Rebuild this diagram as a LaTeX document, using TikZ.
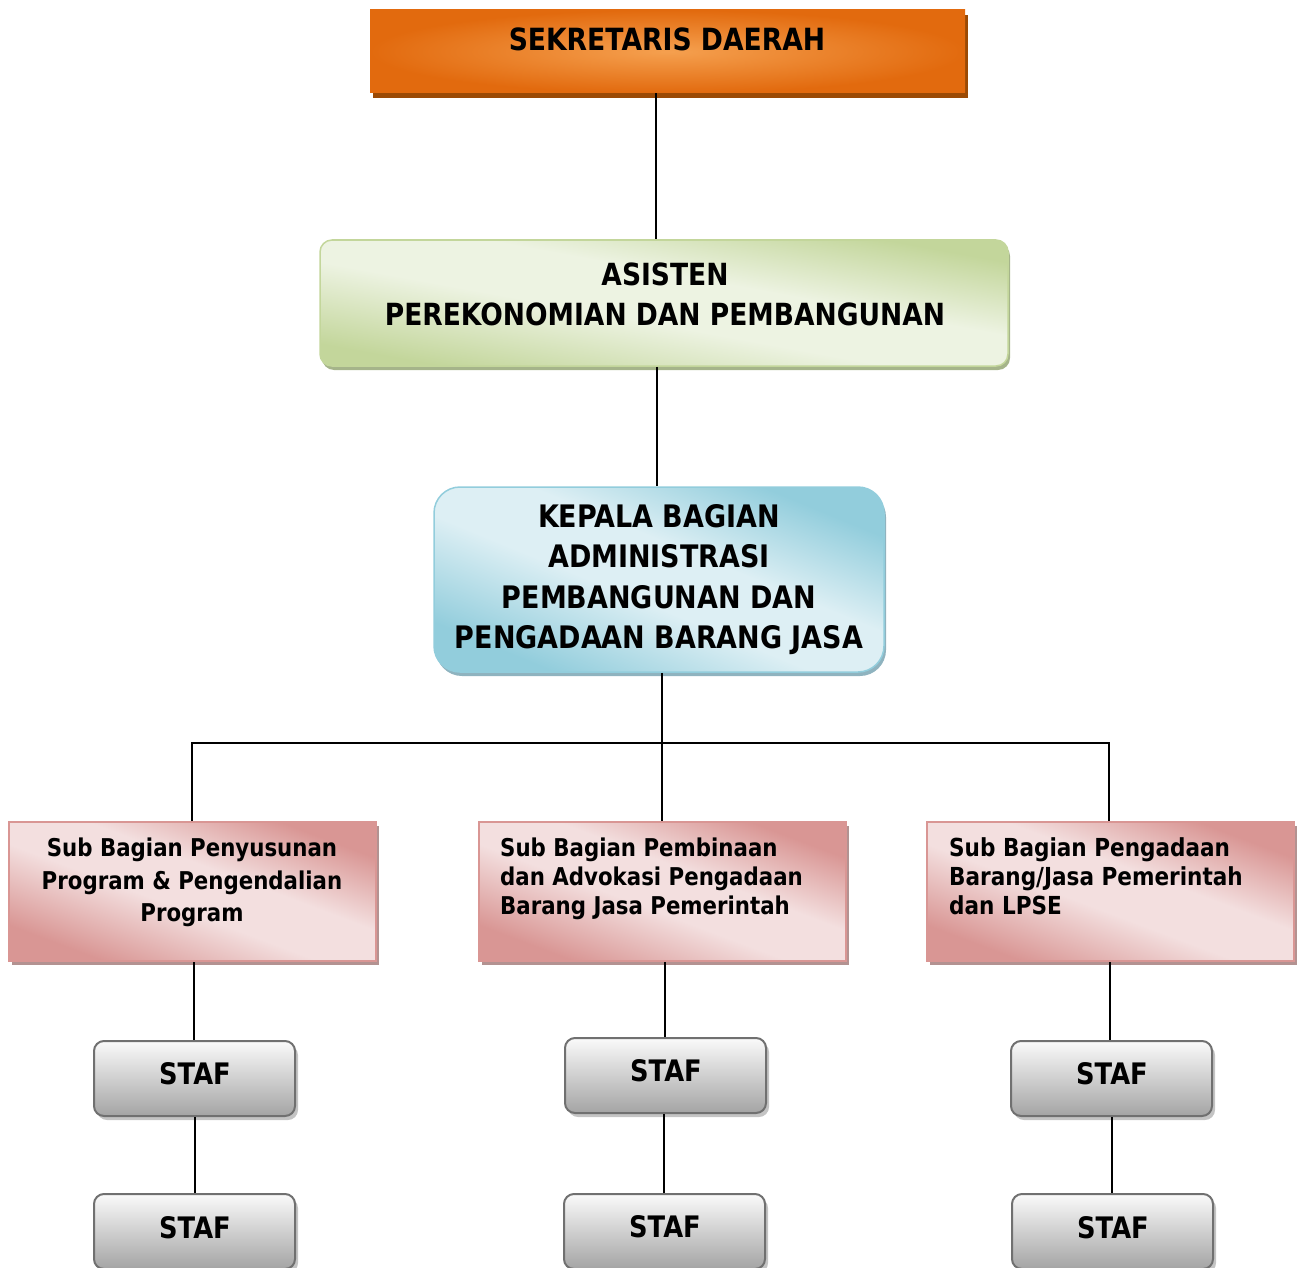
\documentclass[tikz,border=0pt]{standalone}
\usepackage{fontspec}
\setmainfont{DejaVu Sans}[FakeStretch=0.87]
\usetikzlibrary{shadows}
\definecolor{oD}{HTML}{E26A0E}
\definecolor{oL}{HTML}{F5A04F}
\definecolor{oS}{HTML}{9B4A05}
\definecolor{gD}{HTML}{C3D69B}
\definecolor{gL}{HTML}{EDF3E2}
\definecolor{gS}{HTML}{A5B48A}
\definecolor{bD}{HTML}{92CDDC}
\definecolor{bL}{HTML}{DDEFF4}
\definecolor{bS}{HTML}{8FB3BF}
\definecolor{pD}{HTML}{D99694}
\definecolor{pL}{HTML}{F3DFDF}
\definecolor{pS}{HTML}{B39291}
\definecolor{sT}{HTML}{FAFAFA}
\definecolor{sB}{HTML}{A4A4A4}
\definecolor{sE}{HTML}{707070}
\definecolor{sS}{HTML}{C4C4C4}
\pgfdeclarehorizontalshading{diagG}{100bp}{color(0bp)=(gD); color(26bp)=(gD); color(45bp)=(gL); color(57bp)=(gL); color(74bp)=(gD); color(100bp)=(gD)}
\pgfdeclarehorizontalshading{diagB}{100bp}{color(0bp)=(bD); color(26bp)=(bD); color(45bp)=(bL); color(57bp)=(bL); color(74bp)=(bD); color(100bp)=(bD)}
\pgfdeclarehorizontalshading{diagP}{100bp}{color(0bp)=(pD); color(26bp)=(pD); color(45bp)=(pL); color(57bp)=(pL); color(74bp)=(pD); color(100bp)=(pD)}
\newcommand\mlines[2]{\begin{tabular}[t]{@{}#1@{}}#2\end{tabular}}
\tikzset{
  conn/.style={line width=2pt, draw=black},
  boxsek/.style={rectangle, minimum width=595pt, minimum height=83pt, inner sep=0pt,
    shade, shading=radial, inner color=oL, outer color=oD,
    drop shadow={shadow xshift=3pt, shadow yshift=-5pt, fill=oS, opacity=1}},
  boxasis/.style={rectangle, rounded corners=12pt, minimum width=688pt, minimum height=126pt, inner sep=0pt,
    draw=gD, line width=1.5pt, shade, shading=diagG, shading angle=79.6,
    drop shadow={shadow xshift=2pt, shadow yshift=-4pt, fill=gS, opacity=1}},
  boxkep/.style={rectangle, rounded corners=26pt, minimum width=450pt, minimum height=185pt, inner sep=0pt,
    draw=bD, line width=1.5pt, shade, shading=diagB, shading angle=67.6,
    drop shadow={shadow xshift=2pt, shadow yshift=-4pt, fill=bS, opacity=1}},
  boxsub/.style={rectangle, minimum width=367pt, minimum height=139pt, inner sep=0pt,
    draw=pD, line width=2pt, shade, shading=diagP, shading angle=69.3,
    drop shadow={shadow xshift=3pt, shadow yshift=-4pt, fill=pS, opacity=1}},
  boxstaf/.style={rectangle, rounded corners=10pt, minimum width=201pt, minimum height=75pt, inner sep=0pt,
    draw=sE, line width=2pt, shade, top color=sT, bottom color=sB,
    drop shadow={shadow xshift=3pt, shadow yshift=-4pt, fill=sS, opacity=1}},
  txt/.style={inner sep=0pt, anchor=base, font=\bfseries},
}
\begin{document}
\begin{tikzpicture}[x=1pt, y=-1pt]
\useasboundingbox (0,0) rectangle (1301,1268);
\clip (0,0) rectangle (1301,1268);

% boxes
\node[boxsek]  (sek)  at (667.5,51.5) {};
\node[boxasis] (asis) at (664,303) {};
\node[boxkep]  (kep)  at (659,579.5) {};
\node[boxsub]  (sub1) at (192.5,891.5) {};
\node[boxsub]  (sub2) at (662.5,891.5) {};
\node[boxsub]  (sub3) at (1110.5,891.5) {};
\node[boxstaf] (s1a) at (194.5,1078.5) {};
\node[boxstaf] (s2a) at (665.5,1075.5) {};
\node[boxstaf] (s3a) at (1111.5,1078.5) {};
\node[boxstaf] (s1b) at (194.5,1231.5) {};
\node[boxstaf] (s2b) at (664.5,1231.5) {};
\node[boxstaf] (s3b) at (1112.5,1231.5) {};

% texts
\node[txt, font=\bfseries\fontsize{30.6}{40}\selectfont] (tsek) at (667,51) {SEKRETARIS DAERAH};
\node[txt, font=\bfseries\fontsize{30.5}{40}\selectfont] (tasis) at (665,285)
  {\mlines{c}{ASISTEN\\PEREKONOMIAN DAN PEMBANGUNAN}};
\node[txt, font=\bfseries\fontsize{31}{40.5}\selectfont] (tkep) at (659,527)
  {\mlines{c}{KEPALA BAGIAN\\ADMINISTRASI\\PEMBANGUNAN DAN\\PENGADAAN BARANG JASA}};
\node[txt, font=\bfseries\fontsize{24.5}{32.5}\selectfont] (tsub1) at (192,856.5)
  {\mlines{c}{Sub Bagian Penyusunan\\Program \& Pengendalian\\Program}};
\node[txt, anchor=base west, font=\bfseries\fontsize{24.5}{29}\selectfont] (tsub2) at (500,856.5)
  {\mlines{l}{Sub Bagian Pembinaan\\dan Advokasi Pengadaan\\Barang Jasa Pemerintah}};
\node[txt, anchor=base west, font=\bfseries\fontsize{24.8}{29}\selectfont] (tsub3) at (949,856.5)
  {\mlines{l}{Sub Bagian Pengadaan\\Barang/Jasa Pemerintah\\dan LPSE}};
\tikzset{stafft/.style={txt, font=\bfseries\fontsize{29.6}{36}\selectfont}}
\node[stafft] (ts1a) at (195,1084) {STAF};
\node[stafft] (ts2a) at (666,1081) {STAF};
\node[stafft] (ts3a) at (1112,1084) {STAF};
\node[stafft] (ts1b) at (195,1238) {STAF};
\node[stafft] (ts2b) at (665,1237) {STAF};
\node[stafft] (ts3b) at (1113,1238) {STAF};

% connector x positions
\coordinate (x1) at (656,0);
\coordinate (x2) at (657,0);
\coordinate (bus) at (662,743);
\coordinate (xl) at (192,0);
\coordinate (xr) at (1109,0);
\coordinate (xl2) at (194,0);
\coordinate (xl3) at (195,0);
\coordinate (xm2) at (665,0);
\coordinate (xm3) at (664,0);
\coordinate (xr2) at (1110,0);
\coordinate (xr3) at (1112,0);

\draw[conn] (sek.south -| x1) -- (asis.north -| x1);
\draw[conn] (asis.south -| x2) -- (kep.north -| x2);
\draw[conn] (kep.south -| bus) -- (sub2.north -| bus);
\draw[conn] (sub1.north -| xl) -- (xl |- bus) -- (xr |- bus) -- (sub3.north -| xr);
\draw[conn] (sub1.south -| xl2) -- (s1a.north -| xl2);
\draw[conn] (sub2.south -| xm2) -- (s2a.north -| xm2);
\draw[conn] (sub3.south -| xr2) -- (s3a.north -| xr2);
\draw[conn] (s1a.south -| xl3) -- (s1b.north -| xl3);
\draw[conn] (s2a.south -| xm3) -- (s2b.north -| xm3);
\draw[conn] (s3a.south -| xr3) -- (s3b.north -| xr3);
\end{tikzpicture}
\end{document}
